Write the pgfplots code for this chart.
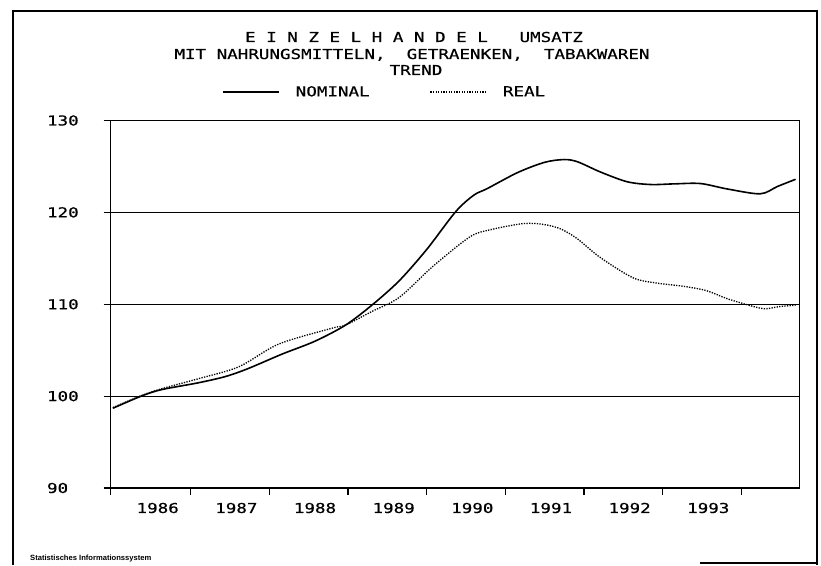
\documentclass[border=0pt]{standalone}
\usepackage{fontspec}
\setmainfont{Liberation Sans}
\usepackage{pgfplots}
\pgfplotsset{compat=1.18}
\newfontfamily\plotfont[FakeStretch=1.28,FakeBold=0.5]{DejaVu Sans Mono}
\newcommand\pf{\plotfont\fontsize{13.7pt}{16pt}\selectfont}

\begin{document}
\begin{tikzpicture}
\useasboundingbox (0pt,0pt) rectangle (821pt,565pt);
% page frame
\draw[line width=1.1pt] (13pt,0pt) -- (13pt,554pt) -- (817pt,554pt) -- (817pt,0pt);
\draw[line width=1.1pt] (700pt,2pt) -- (817pt,2pt);
% titles
\node[font=\pf, anchor=base, inner sep=0pt] at (414pt,523pt) {E~I~N~Z~E~L~H~A~N~D~E~L~~~UMSATZ};
\node[font=\pf, anchor=base, inner sep=0pt] at (412pt,506pt) {MIT~NAHRUNGSMITTELN,~~GETRAENKEN,~~TABAKWAREN};
\node[font=\pf, anchor=base, inner sep=0pt] at (416pt,490pt) {TREND};
\node[font=\fontsize{7.6pt}{9pt}\selectfont\bfseries, anchor=base west, inner sep=0pt] at (30pt,4.5pt) {Statistisches Informationssystem};
\begin{axis}[
  at={(110.5pt,77pt)}, anchor=south west,
  width=689pt, height=367.5pt, scale only axis,
  xmin=1985.98, xmax=1994.74, ymin=90, ymax=130,
  axis line style={line width=1.1pt},
  xtick={1985.98,1987,1988,1989,1990,1991,1992,1993,1994},
  xticklabels={},
  extra x ticks={1986.58,1987.58,1988.58,1989.58,1990.58,1991.58,1992.58,1993.58},
  extra x tick labels={1986,1987,1988,1989,1990,1991,1992,1993},
  extra x tick style={major tick length=0pt},
  ytick={90,100,110,120,130},
  yticklabels={90,100,110,120,130},
  ymajorgrids, major grid style={line width=1.1pt, black},
  tick pos=left, tick align=outside, major tick length=7pt,
  tick style={line width=1.1pt, black},
  tick label style={font=\pf},
  yticklabel style={anchor=west, xshift=-60pt},
  xticklabel style={anchor=center, yshift=-20pt},
  legend columns=2,
  legend style={at={(axis description cs:0.1618,1.0776)}, anchor=west, draw=none, fill=none, inner sep=0pt, column sep=14pt, font=\pf, /tikz/every even column/.append style={column sep=58pt}},
  legend image code/.code={\draw[#1] (0pt,0pt) -- (56pt,0pt);},
]
\addplot[black, line width=1.6pt, smooth] coordinates {
(1986.01,98.68) (1986.37,100.0) (1986.63,100.71) (1987.09,101.44) (1987.44,102.13)
(1987.73,103.0) (1988.16,104.57) (1988.58,105.98) (1988.97,107.74) (1989.31,109.95)
(1989.65,112.55) (1990.00,115.96) (1990.37,120.09) (1990.60,121.88) (1990.77,122.59)
(1991.16,124.35) (1991.50,125.45) (1991.75,125.75) (1991.92,125.5) (1992.21,124.39)
(1992.55,123.33) (1992.85,123.03) (1993.14,123.10) (1993.48,123.14) (1993.82,122.55)
(1994.24,122.02) (1994.46,122.82) (1994.69,123.60)
};
\addlegendentry{NOMINAL}
\addplot[black, line width=1.3pt, smooth, dash pattern=on 1.3pt off 1.3pt] coordinates {
(1986.01,98.75) (1986.37,100.05) (1986.63,100.8) (1987.09,101.88) (1987.61,103.19)
(1988.12,105.67) (1988.80,107.4) (1988.97,107.74) (1989.30,109.2) (1989.65,110.74)
(1990.08,114.13) (1990.55,117.34) (1990.81,118.11) (1991.23,118.78) (1991.49,118.68)
(1991.70,118.21) (1991.91,117.16) (1992.20,115.13) (1992.62,112.89) (1992.92,112.31)
(1993.25,111.97) (1993.55,111.50) (1993.80,110.67) (1994.06,109.98) (1994.29,109.51)
(1994.48,109.74) (1994.69,109.90)
};
\addlegendentry{REAL}
\end{axis}
\end{tikzpicture}
\end{document}
